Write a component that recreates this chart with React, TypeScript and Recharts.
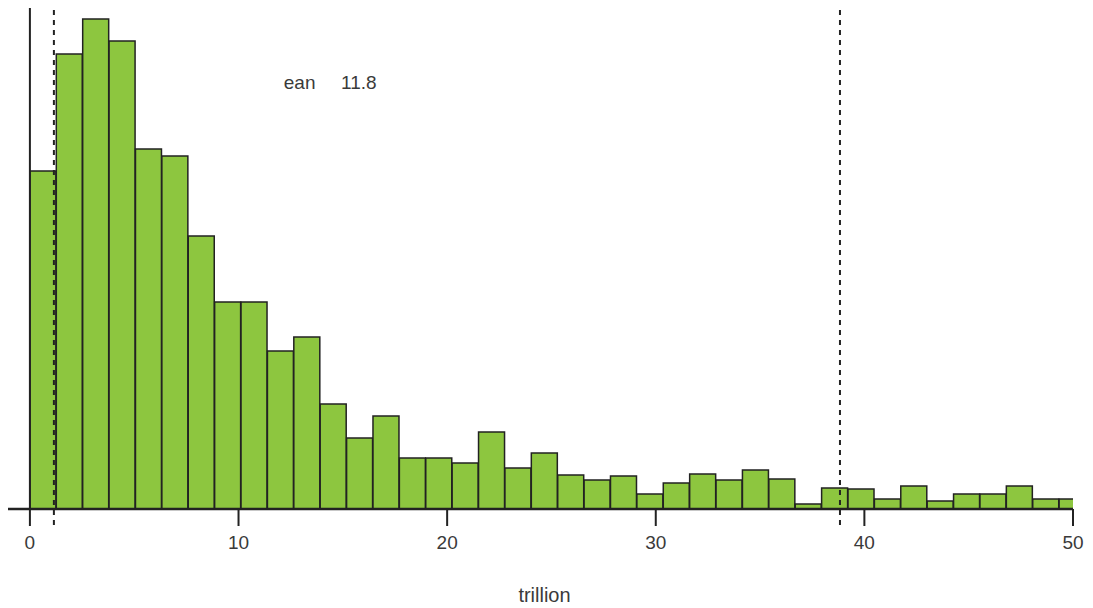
import React from "react";
import {
  ComposedChart,
  Bar,
  XAxis,
  YAxis,
  ReferenceLine,
  ReferenceDot,
  Label,
} from "recharts";

// histogram bin centres (bin width ≈1.265, 40 bins starting at 0; the last is cut at 50)
const binCenters = [
  0.6325, 1.8975, 3.1625, 4.4275, 5.6925, 6.9575, 8.2225, 9.4875, 10.7525, 12.0175,
  13.2825, 14.5475, 15.8125, 17.0775, 18.3425, 19.6075, 20.8725, 22.1375, 23.4025, 24.6675,
  25.9325, 27.1975, 28.4625, 29.7275, 30.9925, 32.2575, 33.5225, 34.7875, 36.0525, 37.3175,
  38.5825, 39.8475, 41.1125, 42.3775, 43.6425, 44.9075, 46.1725, 47.4375, 48.7025, 49.9675,
];

// bar heights (relative frequency units)
const counts = [
  338, 455, 490, 468, 360, 353, 273, 207, 207, 158,
  172, 105, 71, 93, 51, 51, 46, 77, 41, 56,
  34, 29, 33, 15, 26, 35, 29, 39, 30, 5,
  21, 20, 10, 23, 8, 15, 15, 23, 10, 10,
];

const xTicks = [0, 10, 20, 30, 40, 50];
const lowerBound = 1.15;
const upperBound = 38.83;
const meanLabel = "ean";
const meanValue = "11.8";
const xTitle = "trillion";

const data = binCenters.map((x, i) => ({ x, count: counts[i] }));

const DARK = "#222";
const TEXT = "#3a3a3a";
const FONT = "'Liberation Sans', Arial, Helvetica, sans-serif";

export default function App() {
  return (
    <div style={{ width: 1085, height: 600, fontFamily: FONT }}>
      <ComposedChart
        width={1085}
        height={600}
        data={data}
        margin={{ top: 0, right: 20, bottom: 0, left: 0 }}
        barCategoryGap={0}
        barGap={0}
      >
        <XAxis
          dataKey="x"
          type="number"
          domain={[-1.05, 50]}
          allowDataOverflow
          ticks={xTicks}
          interval={0}
          height={99}
          tickSize={17}
          tickMargin={10}
          axisLine={{ stroke: DARK, strokeWidth: 2.5 }}
          tickLine={{ stroke: DARK, strokeWidth: 2 }}
          tick={{ fill: TEXT, fontSize: 19, fontFamily: FONT }}
        >
          <Label
            value={xTitle}
            position="insideBottom"
            offset={6}
            dx={4}
            style={{ fill: TEXT, fontSize: 20, fontFamily: FONT }}
          />
        </XAxis>
        <YAxis hide domain={[0, 501]} allowDataOverflow />
        <Bar
          dataKey="count"
          fill="#8DC63F"
          stroke={DARK}
          strokeWidth={1.5}
          isAnimationActive={false}
        />
        <ReferenceLine x={0} stroke={DARK} strokeWidth={2} />
        <ReferenceLine
          segment={[
            { x: lowerBound, y: -16 },
            { x: lowerBound, y: 504 },
          ]}
          ifOverflow="visible"
          stroke={DARK}
          strokeWidth={2}
          strokeDasharray="5 5"
        />
        <ReferenceLine
          segment={[
            { x: upperBound, y: -16 },
            { x: upperBound, y: 504 },
          ]}
          ifOverflow="visible"
          stroke={DARK}
          strokeWidth={2}
          strokeDasharray="5 5"
        />
        <ReferenceDot
          x={12.93}
          y={427}
          r={0}
          fill="none"
          stroke="none"
          label={{
            value: meanLabel,
            position: "center",
            style: { fill: TEXT, fontSize: 19, fontFamily: FONT },
          }}
        />
        <ReferenceDot
          x={15.77}
          y={427}
          r={0}
          fill="none"
          stroke="none"
          label={{
            value: meanValue,
            position: "center",
            style: { fill: TEXT, fontSize: 19, fontFamily: FONT },
          }}
        />
      </ComposedChart>
    </div>
  );
}
